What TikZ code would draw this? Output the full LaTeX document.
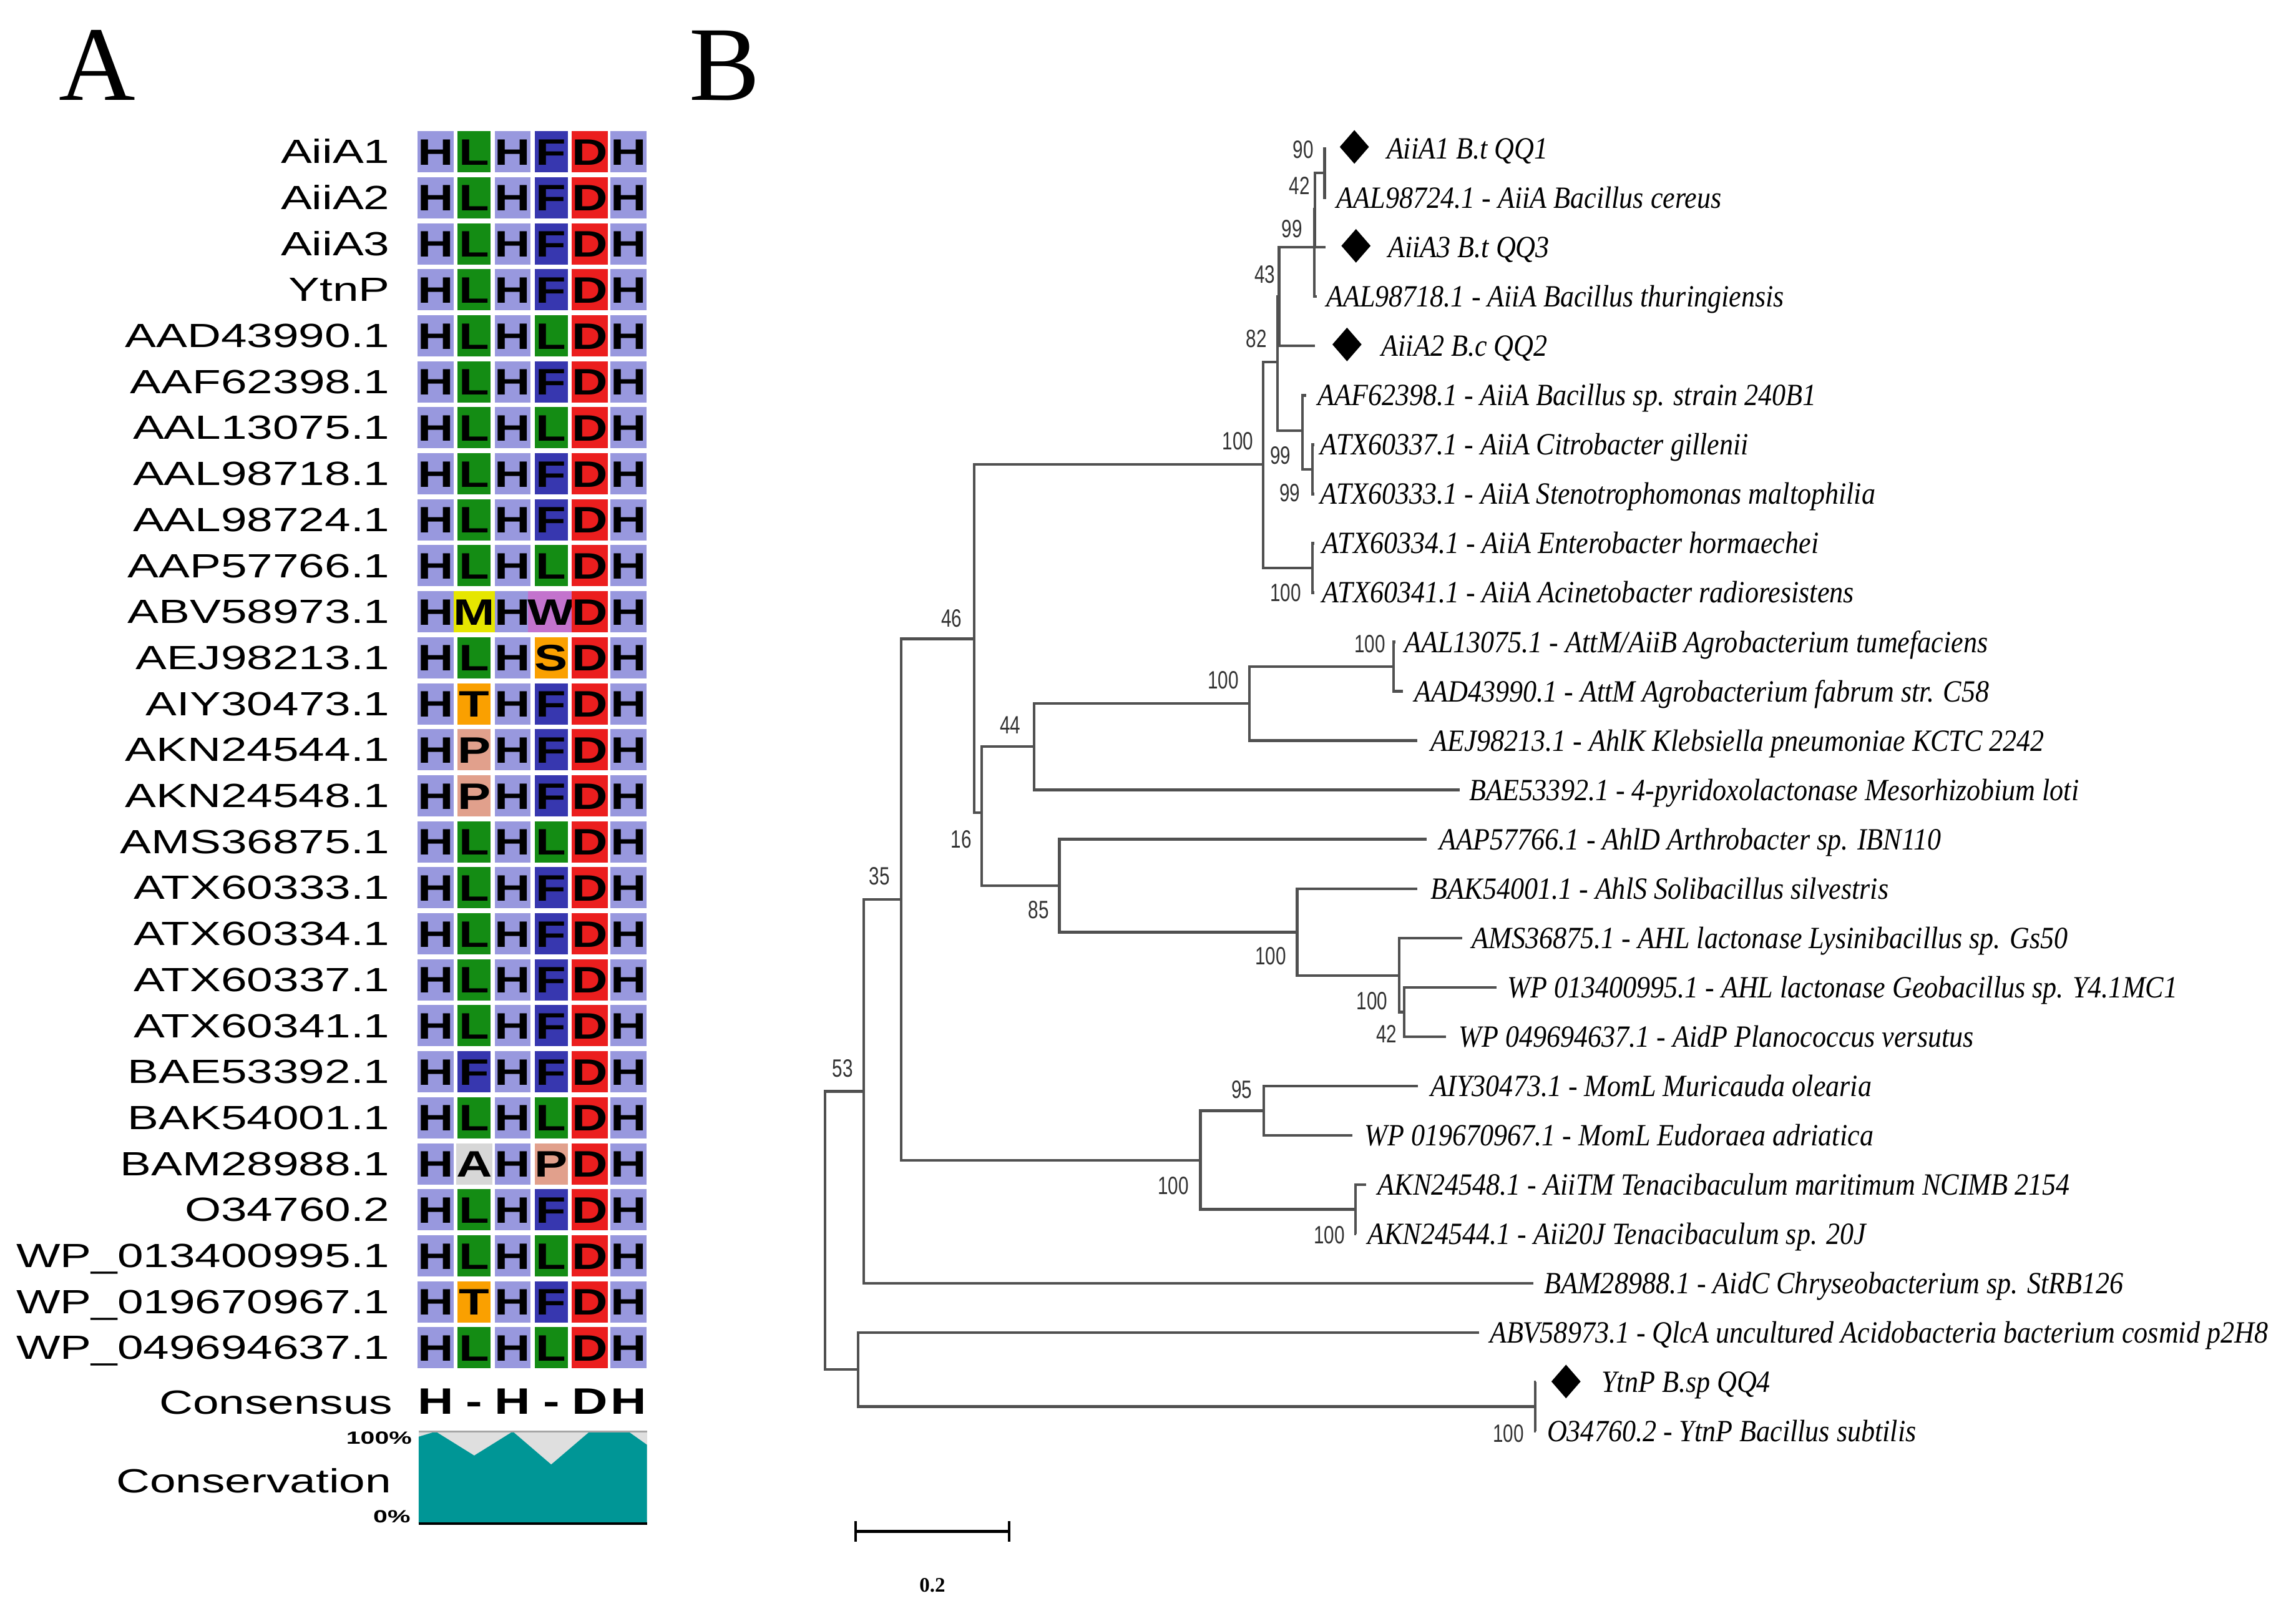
\documentclass[tikz,border=0pt]{standalone}
\usepackage{fontspec}
\usepackage{graphicx}
\usetikzlibrary{shapes.geometric}
\newfontfamily\labfont[FakeStretch=1.39]{Liberation Sans}
\newfontfamily\resfont[FakeStretch=1.35]{Liberation Sans}
\newfontfamily\pctfont[FakeStretch=1.45]{Liberation Sans}
\newfontfamily\bootfont[FakeStretch=0.74]{Liberation Sans}
\newfontfamily\leaffont[FakeStretch=0.89]{Liberation Serif}
\newfontfamily\panelfont{Liberation Serif}
\definecolor{resH}{RGB}{152,152,222}
\definecolor{resL}{RGB}{20,140,20}
\definecolor{resF}{RGB}{55,55,175}
\definecolor{resD}{RGB}{235,30,30}
\definecolor{resM}{RGB}{230,230,0}
\definecolor{resW}{RGB}{195,115,205}
\definecolor{resS}{RGB}{250,160,0}
\definecolor{resT}{RGB}{250,160,0}
\definecolor{resP}{RGB}{225,160,140}
\definecolor{resA}{RGB}{215,215,215}
\definecolor{consteal}{RGB}{0,150,150}
\definecolor{branchgray}{RGB}{80,80,80}
\definecolor{bootgray}{RGB}{50,50,50}
\begin{document}
\begin{tikzpicture}[x=1pt,y=-1pt,
  cell/.style={minimum width=22.6pt,minimum height=28pt,inner sep=0pt,
    font=\resfont\bfseries\fontsize{25}{25}\selectfont,text height=17.9pt,text depth=0pt},
  cons/.style={inner sep=0pt,font=\resfont\bfseries\fontsize{25}{25}\selectfont,text height=17.9pt,text depth=0pt},
  rowlab/.style={anchor=base east,inner sep=0pt,font=\labfont\fontsize{22.8}{22.8}\selectfont},
  pct/.style={anchor=base east,inner sep=0pt,font=\pctfont\bfseries\fontsize{12}{12}\selectfont},
  branch/.style={draw=branchgray,line width=1.8pt},
  leaf/.style={anchor=base west,inner sep=0pt,font=\leaffont\itshape\fontsize{21}{21}\selectfont},
  boot/.style={inner sep=0pt,text=bootgray,font=\bootfont\fontsize{17}{17}\selectfont},
  dia/.style={diamond,fill=black,inner sep=0pt,minimum width=20pt,minimum height=23pt},
  panel/.style={anchor=base west,inner sep=0pt,font=\panelfont\fontsize{72}{72}\selectfont}
]
\useasboundingbox (0,0) rectangle (1560,1090.6);
\fill[white] (0,0) rectangle (1560,1090.6);

% panel letters
\node[panel] (pA) at (40,68) {A};
\node[panel] (pB) at (468,68) {B};

% ---------- Panel A: alignment ----------
\foreach \lab/\res [count=\i] in {
  AiiA1/{H,L,H,F,D,H}, AiiA2/{H,L,H,F,D,H}, AiiA3/{H,L,H,F,D,H}, YtnP/{H,L,H,F,D,H},
  AAD43990.1/{H,L,H,L,D,H}, AAF62398.1/{H,L,H,F,D,H}, AAL13075.1/{H,L,H,L,D,H},
  AAL98718.1/{H,L,H,F,D,H}, AAL98724.1/{H,L,H,F,D,H}, AAP57766.1/{H,L,H,L,D,H},
  ABV58973.1/{H,M,H,W,D,H}, AEJ98213.1/{H,L,H,S,D,H}, AIY30473.1/{H,T,H,F,D,H},
  AKN24544.1/{H,P,H,F,D,H}, AKN24548.1/{H,P,H,F,D,H}, AMS36875.1/{H,L,H,L,D,H},
  ATX60333.1/{H,L,H,F,D,H}, ATX60334.1/{H,L,H,F,D,H}, ATX60337.1/{H,L,H,F,D,H},
  ATX60341.1/{H,L,H,F,D,H}, BAE53392.1/{H,F,H,F,D,H}, BAK54001.1/{H,L,H,L,D,H},
  BAM28988.1/{H,A,H,P,D,H}, O34760.2/{H,L,H,F,D,H}, WP\_013400995.1/{H,L,H,L,D,H},
  WP\_019670967.1/{H,T,H,F,D,H}, WP\_049694637.1/{H,L,H,L,D,H}}
{
  \pgfmathsetmacro\yc{103.1+31.25*(\i-1)}
  \node[rowlab] (lab-\i) at (265,\yc+7.9) {\lab};
  \foreach \c [count=\j] in \res {
    \node[cell,fill=res\c] (c-\i-\j) at ({296+26.18*(\j-1)},\yc) {\c};
  }
}
% consensus
\node[rowlab] (labcons) at (267,960.8) {Consensus};
\foreach \c [count=\j] in {H,-,H,-,D,H} {
  \node[cons] (cs-\j) at ({296+26.18*(\j-1)},951.7) {\c};
}
% conservation
\fill[gray!25] (284.5,972.5) rectangle (439.6,1035);
\fill[consteal] (284.5,976) -- (296,972.5) -- (322.2,988.8) -- (348.4,972.5) -- (374.5,994.9)
  -- (400.7,972.5) -- (426.9,972.5) -- (439.6,981.5) -- (439.6,1035) -- (284.5,1035) -- cycle;
\draw[gray!70,line width=1.2pt] (284.5,972.5) -- (439.6,972.5);
\draw[black,line width=2pt] (284.5,1035) -- (439.6,1035);
\node[rowlab] (labconsv) at (266,1014) {Conservation};
\node[pct] (p100) at (280,981) {100\%};
\node[pct] (p0) at (279,1034.5) {0\%};

% ---------- Panel B: tree ----------
% internal nodes
\coordinate (root) at (560.4,835.9);
\coordinate (n53) at (587,741.4);
\coordinate (nQ) at (583,930.4);
\coordinate (nYtn) at (1043,955.5);
\coordinate (n35) at (612.3,611);
\coordinate (nMom) at (815.6,788.4);
\coordinate (n95) at (858.7,754.5);
\coordinate (n100g) at (921,821.5);
\coordinate (n46) at (662,434);
\coordinate (n16) at (667,552);
\coordinate (n44) at (702.5,507.2);
\coordinate (n100c) at (849,477.9);
\coordinate (n100d) at (947,452.8);
\coordinate (n85) at (719.8,601.7);
\coordinate (n100e) at (881.3,633.3);
\coordinate (n100f) at (950.5,662.6);
\coordinate (n42b) at (954.1,687.5);
\coordinate (nAiiA) at (858.3,315.6);
\coordinate (nA82) at (868,246);
\coordinate (nB43) at (869,201.5);
\coordinate (nC99) at (893,168);
\coordinate (nD42) at (893.5,142);
\coordinate (n90) at (900,117.5);
\coordinate (n99a) at (885,292.6);
\coordinate (n99b) at (891.6,318.8);
\coordinate (nATXb) at (891.6,385.8);
% leaf tips
\coordinate (t1) at (901,101);
\coordinate (t2) at (901,134.5);
\coordinate (t3) at (900.5,168);
\coordinate (t4) at (894.5,201.5);
\coordinate (t5) at (893.5,235);
\coordinate (t6) at (887.6,268.6);
\coordinate (t7) at (893,302.1);
\coordinate (t8) at (893,335.6);
\coordinate (t9) at (893,369.1);
\coordinate (t10) at (893,402.6);
\coordinate (t11) at (948,436.1);
\coordinate (t12) at (953,469.6);
\coordinate (t13) at (963,503.1);
\coordinate (t14) at (992,536.6);
\coordinate (t15) at (969.5,570.1);
\coordinate (t16) at (963,603.7);
\coordinate (t17) at (993.4,637.2);
\coordinate (t18) at (1017,670.7);
\coordinate (t19) at (982.4,704.2);
\coordinate (t20) at (963.3,737.7);
\coordinate (t21) at (919,771.2);
\coordinate (t22) at (928,804.7);
\coordinate (t23) at (921.5,838.2);
\coordinate (t24) at (1042,871.7);
\coordinate (t25) at (1005,905.2);
\coordinate (t26) at (1043.5,938.8);
\coordinate (t27) at (1043.5,972.3);

\foreach \p/\c in {root/n53,root/nQ,n53/n35,n53/t24,nQ/t25,nQ/nYtn,nYtn/t26,nYtn/t27,
  n35/n46,n35/nMom,nMom/n95,nMom/n100g,n95/t20,n95/t21,n100g/t22,n100g/t23,
  n46/nAiiA,n46/n16,n16/n44,n16/n85,n44/n100c,n44/t14,n100c/n100d,n100c/t13,
  n100d/t11,n100d/t12,n85/t15,n85/n100e,n100e/t16,n100e/n100f,n100f/t17,n100f/n42b,
  n42b/t18,n42b/t19,nAiiA/nA82,nAiiA/nATXb,nA82/nB43,nA82/n99a,nB43/nC99,nB43/t5,
  nC99/nD42,nC99/t4,nD42/n90,nD42/t3,n90/t1,n90/t2,n99a/t6,n99a/n99b,n99b/t7,n99b/t8,
  nATXb/t9,nATXb/t10}
  \draw[branch] (\p) |- (\c);

% diamonds
\node[dia] (d1) at (920.2,99.8) {};
\node[dia] (d3) at (921.3,167) {};
\node[dia] (d5) at (915.2,234) {};
\node[dia] (d26) at (1064,938.5) {};

% leaf labels
\node[leaf] (l1) at (942,108) {AiiA1 B.t QQ1};
\node[leaf] (l2) at (908,141.5) {AAL98724.1 - AiiA Bacillus cereus};
\node[leaf] (l3) at (943,175) {AiiA3 B.t QQ3};
\node[leaf] (l4) at (901,208.5) {AAL98718.1 - AiiA Bacillus thuringiensis};
\node[leaf] (l5) at (938.5,242) {AiiA2 B.c QQ2};
\node[leaf] (l6) at (895,275.6) {AAF62398.1 - AiiA Bacillus sp. strain 240B1};
\node[leaf] (l7) at (897,309.1) {ATX60337.1 - AiiA Citrobacter gillenii};
\node[leaf] (l8) at (897,342.6) {ATX60333.1 - AiiA Stenotrophomonas maltophilia};
\node[leaf] (l9) at (898,376.1) {ATX60334.1 - AiiA Enterobacter hormaechei};
\node[leaf] (l10) at (898,409.6) {ATX60341.1 - AiiA Acinetobacter radioresistens};
\node[leaf] (l11) at (954,443.1) {AAL13075.1 - AttM/AiiB Agrobacterium tumefaciens};
\node[leaf] (l12) at (961,476.6) {AAD43990.1 - AttM Agrobacterium fabrum str. C58};
\node[leaf] (l13) at (972,510.1) {AEJ98213.1 - AhlK Klebsiella pneumoniae KCTC 2242};
\node[leaf] (l14) at (998,543.6) {BAE53392.1 - 4-pyridoxolactonase Mesorhizobium loti};
\node[leaf] (l15) at (978,577.1) {AAP57766.1 - AhlD Arthrobacter sp. IBN110};
\node[leaf] (l16) at (972,610.7) {BAK54001.1 - AhlS Solibacillus silvestris};
\node[leaf] (l17) at (1000,644.2) {AMS36875.1 - AHL lactonase Lysinibacillus sp. Gs50};
\node[leaf] (l18) at (1024,677.7) {WP 013400995.1 - AHL lactonase Geobacillus sp. Y4.1MC1};
\node[leaf] (l19) at (991,711.2) {WP 049694637.1 - AidP Planococcus versutus};
\node[leaf] (l20) at (972,744.7) {AIY30473.1 - MomL Muricauda olearia};
\node[leaf] (l21) at (927,778.2) {WP 019670967.1 - MomL Eudoraea adriatica};
\node[leaf] (l22) at (936,811.7) {AKN24548.1 - AiiTM Tenacibaculum maritimum NCIMB 2154};
\node[leaf] (l23) at (929,845.2) {AKN24544.1 - Aii20J Tenacibaculum sp. 20J};
\node[leaf] (l24) at (1049,878.7) {BAM28988.1 - AidC Chryseobacterium sp. StRB126};
\node[leaf] (l25) at (1012,912.2) {ABV58973.1 - QlcA uncultured Acidobacteria bacterium cosmid p2H8};
\node[leaf] (l26) at (1088,945.8) {YtnP B.sp QQ4};
\node[leaf] (l27) at (1051,979.3) {O34760.2 - YtnP Bacillus subtilis};

% bootstrap values
\foreach \bx/\by/\bv [count=\k] in {885.5/101.8/90, 883/126/42, 877.8/155.5/99, 859.4/186.6/43,
  853.6/230.2/82, 841/299.7/100, 870/309.6/99, 876.4/335/99, 873.5/402.8/100,
  646.5/420/46, 930.8/437.4/100, 831/462/100, 686.4/492.6/44, 653/570/16,
  705.7/618/85, 863.4/649.5/100, 932.2/679.9/100, 942.1/702.5/42, 843.8/740/95,
  797.2/805.7/100, 903.2/838.8/100, 597.6/595.4/35, 572.5/725.8/53, 1024.8/974/100}
  \node[boot] (bs-\k) at (\bx,\by) {\bv};

% scale bar
\coordinate (sb1) at (581.3,1040.4);
\coordinate (sb2) at (685.7,1040.4);
\draw[black,line width=2.4pt] (sb1) -- (sb2);
\draw[black,line width=1.6pt] (sb1) ++(0,-7) -- ++(0,14);
\draw[black,line width=1.6pt] (sb2) ++(0,-7) -- ++(0,14);
\node[inner sep=0pt,font=\panelfont\bfseries\fontsize{14}{14}\selectfont] (sbl) at (633.5,1077) {0.2};
\end{tikzpicture}
\end{document}
